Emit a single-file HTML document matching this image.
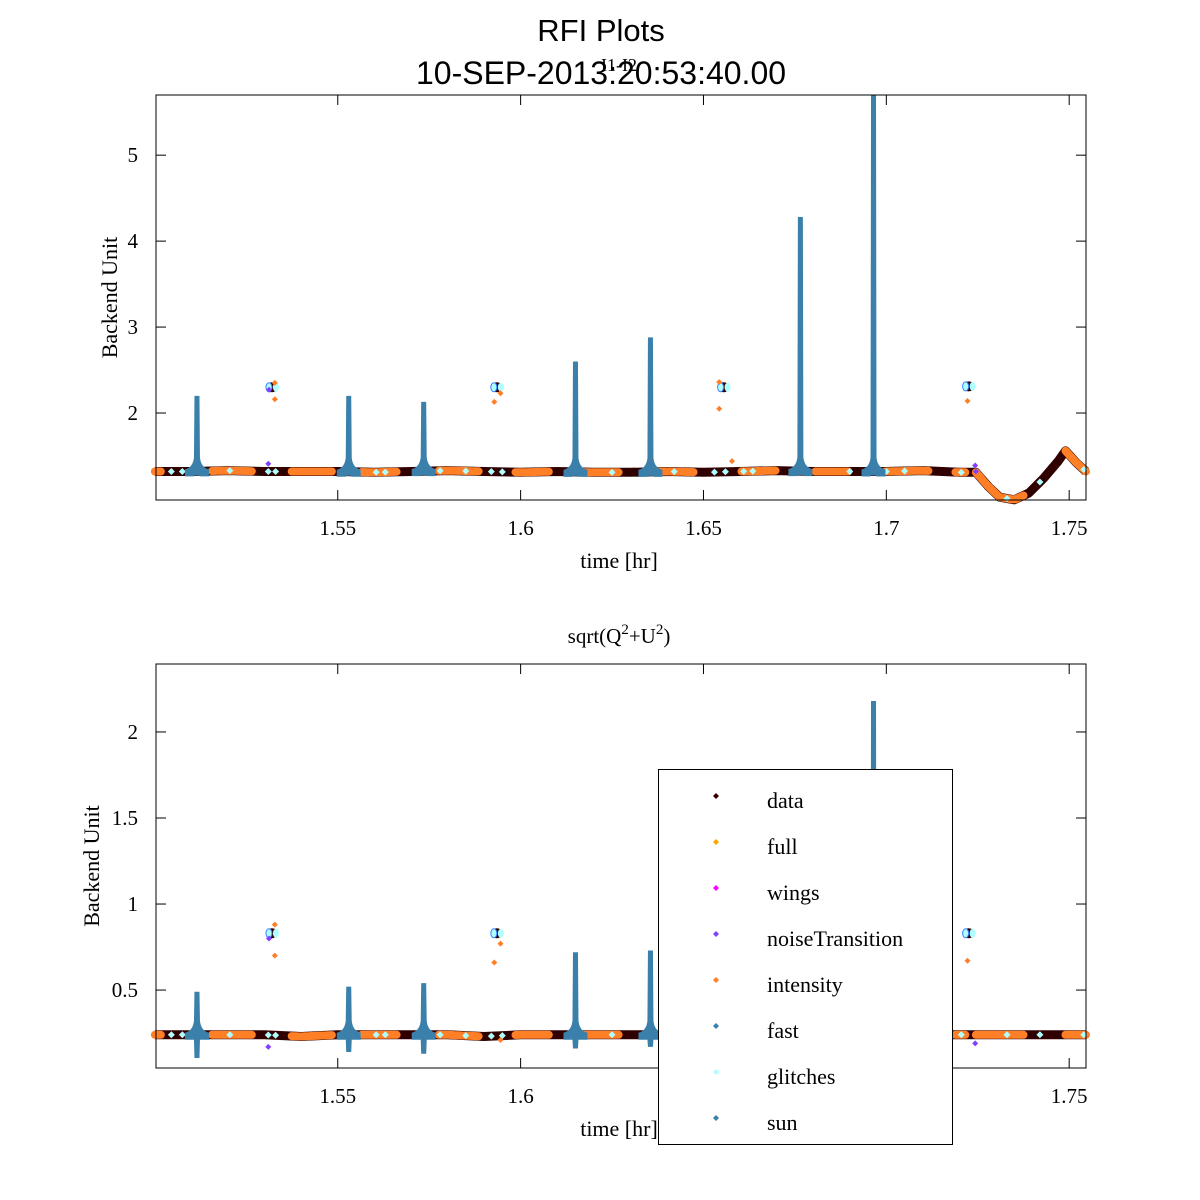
<!DOCTYPE html>
<html><head><meta charset="utf-8"><style>
html,body{margin:0;padding:0;background:#fff;}
svg{display:block;}
.serif{font-family:"Liberation Serif",serif;}
.sans{font-family:"Liberation Sans",sans-serif;}
</style></head><body>
<svg id="chart" width="1200" height="1200" xmlns="http://www.w3.org/2000/svg">
<rect width="1200" height="1200" fill="#fff"/>
<text class="sans" x="601" y="41" font-size="31" text-anchor="middle">RFI Plots</text>
<text class="sans" x="601" y="84" font-size="32" text-anchor="middle">10-SEP-2013:20:53:40.00</text>
<text class="serif" x="619" y="71" font-size="18" text-anchor="middle">I1-I2</text>
<text class="serif" x="619" y="643" font-size="21" text-anchor="middle">sqrt(Q<tspan font-size="15" dy="-9">2</tspan><tspan dy="9">+U</tspan><tspan font-size="15" dy="-9">2</tspan><tspan dy="9">)</tspan></text>
<g id="top"></g><g id="bot"></g><g id="legend"></g>
</svg>
<script>
// ---- data ----
const xTicks = [1.55, 1.6, 1.65, 1.7, 1.75];
const xTickLabels = ["1.55", "1.6", "1.65", "1.7", "1.75"];
const topYTicks = [2, 3, 4, 5];
const topYTickLabels = ["2", "3", "4", "5"];
const botYTicks = [0.5, 1, 1.5, 2];
const botYTickLabels = ["0.5", "1", "1.5", "2"];
const baseT = [1.500,1.51,1.52,1.53,1.54,1.55,1.56,1.57,1.58,1.59,1.60,1.61,1.62,1.63,1.64,1.65,1.66,1.67,1.68,1.69,1.70,1.71,1.72,1.7245,1.728,1.731,1.735,1.739,1.743,1.747,1.749,1.752,1.7546];
const topBaseY = [1.32,1.32,1.33,1.32,1.32,1.32,1.31,1.32,1.33,1.32,1.31,1.32,1.31,1.31,1.32,1.31,1.32,1.33,1.32,1.32,1.32,1.33,1.31,1.31,1.14,1.02,0.99,1.07,1.24,1.44,1.56,1.42,1.32];
const botBaseY = [0.24,0.24,0.24,0.24,0.23,0.24,0.24,0.24,0.24,0.23,0.24,0.24,0.24,0.24,0.24,0.24,0.24,0.24,0.24,0.24,0.24,0.24,0.24,0.24,0.24,0.24,0.24,0.24,0.24,0.24,0.24,0.24,0.24];
const intensityStart = [1.5,1.5156,1.5374,1.5566,1.5776,1.5986,1.6172,1.6377,1.6604,1.6806,1.6997,1.7189,1.7245,1.749];
const intensityEnd   = [1.5016,1.5265,1.5484,1.5661,1.5885,1.6077,1.6268,1.6473,1.6697,1.6896,1.7115,1.7216,1.7375,1.7546];
const sunT = [1.5115,1.553,1.5735,1.615,1.6355,1.6765,1.6965];
const sunTopPeak = [2.2,2.2,2.13,2.6,2.88,4.28,5.7];
const sunBotPeak = [0.49,0.52,0.54,0.72,0.73,0.75,2.18];
const sunBotMin = [0.105,0.14,0.13,0.16,0.17,0.16,0.15];
const glitchClusterT = [1.532,1.5935,1.6555,1.7225];
const topClusterY = [2.3,2.3,2.3,2.31];
const botClusterY = [0.83,0.83,0.82,0.83];
const topOutT = [1.5328,1.5328,1.531,1.5928,1.5945,1.6543,1.6543,1.6578,1.7222,1.7243,1.5312,1.7245];
const topOutY = [2.16,2.35,1.41,2.13,2.23,2.05,2.36,1.44,2.14,1.39,2.27,1.32];
const topOutC = ["#ff7f27","#ff7f27","#8040ff","#ff7f27","#ff7f27","#ff7f27","#ff7f27","#ff7f27","#ff7f27","#8040ff","#8040ff","#8040ff"];
const botOutT = [1.5328,1.5328,1.531,1.5928,1.5945,1.5945,1.7222,1.7243,1.5312,1.6545];
const botOutY = [0.70,0.88,0.17,0.66,0.77,0.21,0.67,0.19,0.80,0.87];
const botOutC = ["#ff7f27","#ff7f27","#8040ff","#ff7f27","#ff7f27","#ff7f27","#ff7f27","#8040ff","#8040ff","#ff7f27"];
const glitchT = [1.5045,1.5075,1.5205,1.5310,1.5330,1.5555,1.5605,1.5630,1.5780,1.5850,1.5920,1.5950,1.6140,1.6250,1.6420,1.6530,1.6560,1.6610,1.6635,1.6900,1.7000,1.7050,1.7205,1.7330,1.7420,1.7540];
const legendLabels = ["data","full","wings","noiseTransition","intensity","fast","glitches","sun"];
const legendColors = ["#3a0000","#ffa500","#ff00ff","#8040ff","#ff7f27","#3a80b0","#b0ffff","#3a80aa"];

// ---- layout ----
const X0=156, X1=1086, T0=1.5003, T1=1.7546;
const xs = t => X0 + (t - T0) / (T1 - T0) * (X1 - X0);
const panels = [
  {g:'top', y0:95, y1:500, v0:0.988, v1:5.70, base:topBaseY, ticks:topYTicks, labels:topYTickLabels, peak:sunTopPeak, min:null, cl:topClusterY, oT:topOutT, oY:topOutY, oC:topOutC},
  {g:'bot', y0:664, y1:1068, v0:0.047, v1:2.395, base:botBaseY, ticks:botYTicks, labels:botYTickLabels, peak:sunBotPeak, min:sunBotMin, cl:botClusterY, oT:botOutT, oY:botOutY, oC:botOutC}
];
const NS='http://www.w3.org/2000/svg';
function mk(tag, attrs, parent){const e=document.createElementNS(NS,tag);for(const k in attrs)e.setAttribute(k,attrs[k]);parent.appendChild(e);return e;}
function interp(t, arr){for(let i=0;i<baseT.length-1;i++){if(t>=baseT[i]&&t<=baseT[i+1]){const f=(t-baseT[i])/(baseT[i+1]-baseT[i]);return arr[i]+f*(arr[i+1]-arr[i]);}}return arr[arr.length-1];}
function diamond(x,y,r,c,parent){return mk('path',{d:`M${x-r},${y}L${x},${y-r}L${x+r},${y}L${x},${y+r}Z`,fill:c},parent);}

panels.forEach((p,pi)=>{
  const g=document.getElementById(p.g);
  
  
  const ys = v => p.y1 - (v - p.v0)/(p.v1 - p.v0)*(p.y1 - p.y0);
  let d=''; baseT.forEach((t,i)=>{d+=(i?'L':'M')+xs(t).toFixed(1)+','+ys(p.base[i]).toFixed(1);});
  const bl=mk('path',{d:d,fill:'none',stroke:'#300000','stroke-width':9,'stroke-linejoin':'round'},g);
  
  
  intensityStart.forEach((s,i)=>{
    const e=intensityEnd[i]; let dd='';
    for(let k=0;k<=12;k++){const t=s+(e-s)*k/12;dd+=(k?'L':'M')+xs(t).toFixed(1)+','+ys(interp(t,p.base)).toFixed(1);}
    const seg=mk('path',{d:dd,fill:'none',stroke:'#ff7f27','stroke-width':8,'stroke-linecap':'round'},g);
    
    
  });
  glitchT.forEach(t=>{
    const m=diamond(xs(t),ys(interp(t,p.base)),3.5,'#b0ffff',g);
    
    
  });
  sunT.forEach((t,i)=>{
    const x=xs(t), yb=ys(interp(t,p.base)), yp=ys(p.peak[i]);
    const yl = p.min ? ys(p.min[i]) : yb+4;
    const sp=mk('path',{d:`M${x-2.5},${yp}L${x+2.5},${yp}L${x+3},${yb-14}Q${x+4},${yb-4} ${x+12},${yb-2}L${x+12},${yb+5}L${x+3},${yb+5}L${x+2.5},${yl}L${x-2.5},${yl}L${x-3},${yb+5}L${x-12},${yb+5}L${x-12},${yb-2}Q${x-4},${yb-4} ${x-3},${yb-14}Z`,fill:'#3a80aa'},g);
    
    
  });
  glitchClusterT.forEach((t,i)=>{
    const x=xs(t), y=ys(p.cl[i]);
    const cg=mk('g',{},g);
    
    
    mk('ellipse',{cx:x,cy:y,rx:6,ry:5,fill:'#300000'},cg);
    mk('ellipse',{cx:x-3,cy:y,rx:3,ry:4.5,fill:'#b0ffff',stroke:'#3a80ff','stroke-width':1},cg);
    mk('ellipse',{cx:x+4,cy:y,rx:3,ry:4.5,fill:'#b0ffff'},cg);
  });
  p.oT.forEach((t,i)=>{
    const m=diamond(xs(t),ys(p.oY[i]),3,p.oC[i],g);
    
    
  });
  const box=mk('rect',{x:X0,y:p.y0,width:X1-X0,height:p.y1-p.y0,fill:'none',stroke:'#000','stroke-width':1},g);
  
  
  xTicks.forEach((t,i)=>{
    const x=xs(t);
    mk('line',{x1:x,y1:p.y1,x2:x,y2:p.y1-10,stroke:'#000'},g);
    mk('line',{x1:x,y1:p.y0,x2:x,y2:p.y0+10,stroke:'#000'},g);
    const tl=mk('text',{x:x,y:p.y1+35,'font-size':21,'text-anchor':'middle',class:'serif'},g);
    tl.textContent=xTickLabels[i];
    
    
  });
  p.ticks.forEach((v,i)=>{
    const y=ys(v);
    mk('line',{x1:X0,y1:y,x2:X0+10,y2:y,stroke:'#000'},g);
    mk('line',{x1:X1,y1:y,x2:X1-10,y2:y,stroke:'#000'},g);
    const tl=mk('text',{x:X0-18,y:y+7,'font-size':21,'text-anchor':'end',class:'serif'},g);
    tl.textContent=p.labels[i];
    
    
  });
  const xl=mk('text',{x:619,y:p.y1+68,'font-size':22,'text-anchor':'middle',class:'serif'},g);
  xl.textContent='time [hr]';
  
  
  const yx = pi===0?117:99, ym=(p.y0+p.y1)/2;
  const yl=mk('text',{x:yx,y:ym,'font-size':22,'text-anchor':'middle',class:'serif',transform:`rotate(-90 ${yx} ${ym})`},g);
  yl.textContent='Backend Unit';
  
  
});

const lg=document.getElementById('legend');


mk('rect',{x:658.5,y:769.5,width:294,height:375,fill:'#fff',stroke:'#000','stroke-width':1},lg);
legendLabels.forEach((lab,i)=>{
  const y=796+i*46;
  const en=mk('g',{},lg);
  
  
  diamond(716,y,3,legendColors[i],en);
  const t=mk('text',{x:767,y:y+12,'font-size':22,class:'serif'},en);
  t.textContent=lab;
});
</script>
</body></html>
